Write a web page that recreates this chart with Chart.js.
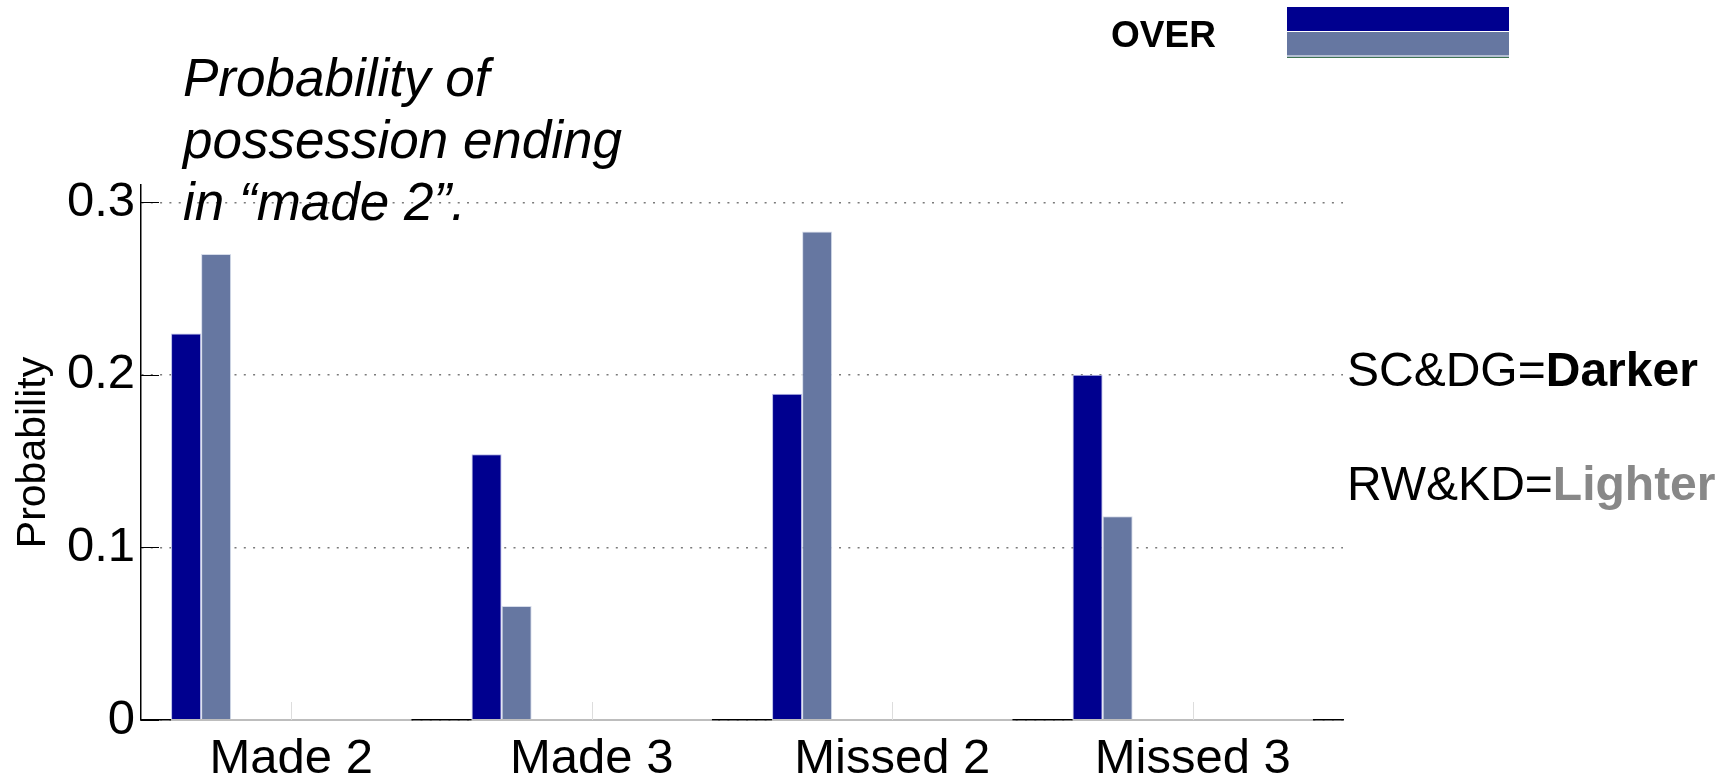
<!DOCTYPE html>
<html>
<head>
<meta charset="utf-8">
<script src="https://cdn.jsdelivr.net/npm/chart.js@4/dist/chart.umd.min.js"></script>
<style>
  html, body { margin: 0; padding: 0; background: #fff; }
  #wrap { width: 1733px; height: 783px; position: relative; }
</style>
</head>
<body>
<div id="wrap"><canvas id="barChart"></canvas></div>
<script>
// categories + values
const categories = ['Made 2', 'Made 3', 'Missed 2', 'Missed 3'];
const darker  = [0.224, 0.154, 0.189, 0.200];   // SC&DG
const lighter = [0.270, 0.066, 0.283, 0.118];   // RW&KD
const blank   = [0, 0, 0, 0];                   // the empty bar slots of each group
const yTicks  = [0, 0.1, 0.2, 0.3];

const FONT = '"Liberation Sans", Arial, Helvetica, sans-serif';

// extra drawing: inner ticks, gray baseline under groups, notes, the odd legend
const decor = {
    id: 'decor',
    afterDatasetsDraw(chart) {
        const ctx = chart.ctx;
        const area = chart.chartArea;
        const y = chart.scales.y;
        const x = chart.scales.x;
        ctx.save();

        // gray baseline under each bar group
        const first = chart.getDatasetMeta(0).data;
        const last = chart.getDatasetMeta(chart.data.datasets.length - 1).data;
        ctx.strokeStyle = '#bdbdbd';
        ctx.lineWidth = 2;
        first.forEach(function(bar, i) {
            const x0 = bar.x - bar.width / 2;
            const x1 = last[i].x + last[i].width / 2;
            ctx.beginPath();
            ctx.moveTo(x0, area.bottom);
            ctx.lineTo(x1, area.bottom);
            ctx.stroke();
        });

        // short gray ticks at category centres
        ctx.strokeStyle = '#dddddd';
        ctx.lineWidth = 1;
        categories.forEach(function(c, i) {
            const cx = Math.round(x.getPixelForValue(i)) + 0.5;
            ctx.beginPath();
            ctx.moveTo(cx, area.bottom);
            ctx.lineTo(cx, area.bottom - 18);
            ctx.stroke();
        });

        // inner ticks on the y axis
        ctx.strokeStyle = '#000';
        ctx.lineWidth = 1;
        yTicks.forEach(function(v) {
            const py = Math.round(y.getPixelForValue(v)) + 0.5;
            ctx.beginPath();
            ctx.moveTo(area.left, py);
            ctx.lineTo(area.left + 18, py);
            ctx.stroke();
        });

        // title in the corner
        ctx.fillStyle = '#000';
        ctx.textAlign = 'left';
        ctx.textBaseline = 'alphabetic';
        ctx.font = 'italic 53px ' + FONT;
        ctx.fillText('Probability of', 183, 96);
        ctx.fillText('possession ending', 183, 158);
        ctx.fillText('in \u201cmade 2\u201d.', 183, 220);

        // notes on the right
        ctx.font = '48px ' + FONT;
        let w = ctx.measureText('SC&DG=').width;
        ctx.fillText('SC&DG=', 1347, 386);
        ctx.font = 'bold 48px ' + FONT;
        ctx.fillText('Darker', 1347 + w, 386);

        ctx.font = '48px ' + FONT;
        w = ctx.measureText('RW&KD=').width;
        ctx.fillText('RW&KD=', 1347, 500);
        ctx.font = 'bold 48px ' + FONT;
        ctx.fillStyle = '#888888';
        ctx.fillText('Lighter', 1347 + w, 500);

        // "OVER" legend at the top
        ctx.fillStyle = '#000';
        ctx.font = 'bold 37px ' + FONT;
        ctx.fillText('OVER', 1111, 47);
        ctx.fillStyle = '#00008f';
        ctx.fillRect(1287, 7, 222, 24);
        ctx.fillStyle = '#6677a1';
        ctx.fillRect(1287, 32, 222, 23);
        ctx.fillStyle = '#b4bfd2';
        ctx.fillRect(1287, 55, 222, 2);
        ctx.fillStyle = '#3f7352';
        ctx.fillRect(1287, 57, 222, 1);

        ctx.restore();
    }
};

const barStyle = {
    borderWidth: 1,
    borderSkipped: 'bottom',
    categoryPercentage: 0.8,
    barPercentage: 1.0
};

const datasets = [
    Object.assign({ label: 'SC&DG', data: darker, backgroundColor: '#00008f', borderColor: '#b8bce8' }, barStyle),
    Object.assign({ label: 'RW&KD', data: lighter, backgroundColor: '#6677a1', borderColor: '#d6dcea' }, barStyle)
];
for (let k = 0; k < 6; k++) {
    datasets.push(Object.assign({ label: 'empty ' + (k + 1), data: blank, backgroundColor: '#ffffff', borderColor: '#cccccc' }, barStyle));
}

new Chart(document.getElementById('barChart').getContext('2d'), {
    type: 'bar',
    data: { labels: categories, datasets: datasets },
    options: {
        responsive: true,
        maintainAspectRatio: false,
        animation: false,
        layout: { padding: { top: 185, right: 390, left: 0, bottom: 0 } },
        plugins: {
            legend: { display: false },
            tooltip: { enabled: false }
        },
        scales: {
            x: {
                grid: { display: false, drawTicks: false },
                border: { color: '#000', width: 1.5 },
                ticks: {
                    color: '#000',
                    padding: 10,
                    font: { family: FONT, size: 49 },
                    maxRotation: 0
                },
                afterFit: function(scale) { scale.height = 63; }
            },
            y: {
                min: 0,
                max: 0.31,
                grid: {
                    drawTicks: false,
                    color: '#7a7a7a',
                    lineWidth: 1.5
                },
                border: { color: '#000', width: 1.5, dash: [2, 7.3] },
                ticks: {
                    color: '#000',
                    padding: 6,
                    font: { family: FONT, size: 49 },
                    callback: function(v) { return v === 0 ? '0' : v.toFixed(1); }
                },
                afterBuildTicks: function(scale) {
                    scale.ticks = yTicks.map(function(v) { return { value: v }; });
                },
                title: {
                    display: true,
                    text: 'Probability',
                    color: '#000',
                    font: { family: FONT, size: 41 },
                    padding: { top: 9, bottom: 0 }
                },
                afterFit: function(scale) { scale.width = 141; }
            }
        }
    },
    plugins: [decor]
});
</script>
</body>
</html>
